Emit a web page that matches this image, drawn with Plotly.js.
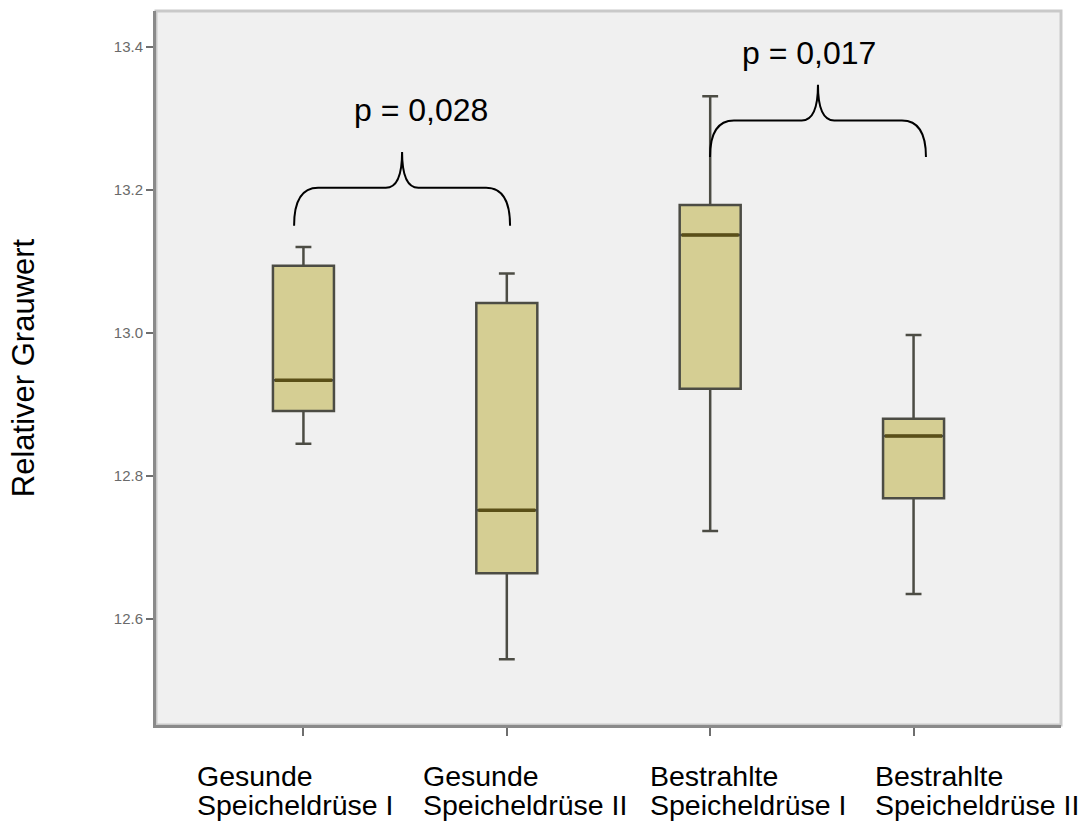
<!DOCTYPE html>
<html>
<head>
<meta charset="utf-8">
<script src="https://cdn.plot.ly/plotly-3.0.1.min.js"></script>
<style>html,body{margin:0;padding:0;background:#fff;}</style>
</head>
<body>
<div id="chart" style="width:1085px;height:822px;"></div>
<script>
// Data
const categories = ["Gesunde<br>Speicheldrüse I", "Gesunde<br>Speicheldrüse II", "Bestrahlte<br>Speicheldrüse I", "Bestrahlte<br>Speicheldrüse II"];
const lowerWhisker = [12.845, 12.544, 12.723, 12.635];
const q1Values     = [12.891, 12.664, 12.922, 12.769];
const medianValues = [12.934, 12.752, 13.137, 12.856];
const q3Values     = [13.094, 13.042, 13.179, 12.880];
const upperWhisker = [13.120, 13.083, 13.331, 12.997];
const yTicks = [12.6, 12.8, 13.0, 13.2, 13.4];
const yTickText = ["12.6", "12.8", "13.0", "13.2", "13.4"];
const pLabels = ["p = 0,028", "p = 0,017"];
const comparisons = [[0, 1], [2, 3]];

const idx = categories.map((_, i) => i);
const boxWidth = 0.3;
const FONT = 'Liberation Sans, Arial, sans-serif';

const boxTrace = {
  type: 'box',
  x: idx,
  q1: q1Values,
  median: medianValues,
  q3: q3Values,
  lowerfence: lowerWhisker,
  upperfence: upperWhisker,
  width: boxWidth,
  whiskerwidth: 0.26,
  boxpoints: false,
  fillcolor: '#d5ce93',
  line: {color: '#4c4c44', width: 2.5},
  hoverinfo: 'skip',
  showlegend: false
};

const mx = [], my = [];
idx.forEach(i => {
  mx.push(i - boxWidth / 2 + 0.01, i + boxWidth / 2 - 0.01, null);
  my.push(medianValues[i], medianValues[i], null);
});
const medianTrace = {
  type: 'scatter', mode: 'lines', x: mx, y: my,
  line: {color: '#5a4f17', width: 3.5},
  hoverinfo: 'skip', showlegend: false
};

// Curly braces between compared groups (layout geometry)
function bracePath(x0, x1, yb, yh, yt) {
  const xm = (x0 + x1) / 2, dx = 0.118, dx2 = 0.08;
  return `M ${x0},${yb} Q ${x0},${yh} ${x0 + dx},${yh} L ${xm - dx2},${yh} Q ${xm},${yh} ${xm},${yt} ` +
         `Q ${xm},${yh} ${xm + dx2},${yh} L ${x1 - dx},${yh} Q ${x1},${yh} ${x1},${yb}`;
}
const braceOffsets = [[-0.046, 0.016], [-0.001, 0.061]];
const braceLevels = [[13.150, 13.203, 13.253], [13.246, 13.297, 13.347]];
const pLabelPos = [[0.578, 13.312], [2.486, 13.391]];
const shapes = [{
  type: 'rect', xref: 'paper', yref: 'paper', x0: 0, x1: 1, y0: 0, y1: 1,
  line: {color: '#c9c9c9', width: 3}, layer: 'below'
}];
const annotations = [];
comparisons.forEach((c, k) => {
  const x0 = c[0] + braceOffsets[k][0], x1 = c[1] + braceOffsets[k][1];
  const [yb, yh, yt] = braceLevels[k];
  shapes.push({type: 'path', xref: 'x', yref: 'y', path: bracePath(x0, x1, yb, yh, yt),
               line: {color: '#000', width: 2}});
  annotations.push({xref: 'x', yref: 'y', x: pLabelPos[k][0], y: pLabelPos[k][1],
    text: pLabels[k], showarrow: false, xanchor: 'center', yanchor: 'middle',
    font: {family: FONT, size: 32, color: '#000'}});
});
const labelX = [0.043, 0.293, 0.5436, 0.792];
const lineY = [-0.0714, -0.1115];
categories.forEach((c, i) => {
  c.split('<br>').forEach((line, j) => {
    annotations.push({xref: 'paper', yref: 'paper', x: labelX[i], y: lineY[j],
      xanchor: 'left', yanchor: 'middle', align: 'left', text: line, showarrow: false,
      font: {family: FONT, size: 28.5, color: '#000'}});
  });
});

const layout = {
  width: 1085, height: 822,
  margin: {l: 156, r: 24, t: 11, b: 97},
  paper_bgcolor: '#ffffff',
  plot_bgcolor: '#f0f0f0',
  font: {family: FONT, color: '#000'},
  xaxis: {
    range: [-0.725, 3.725], tickvals: idx, ticktext: idx.map(() => ''),
    ticks: 'outside', ticklen: 8, tickwidth: 2, tickcolor: '#6e6e6e',
    showline: true, linecolor: '#8a8a8a', linewidth: 3,
    showgrid: false, zeroline: false, fixedrange: true
  },
  yaxis: {
    range: [12.452, 13.450], tickvals: yTicks, ticktext: yTickText,
    ticks: 'outside', ticklen: 7, tickwidth: 2, tickcolor: '#6e6e6e',
    tickfont: {size: 15, color: '#6a6a6a'},
    showline: true, linecolor: '#8a8a8a', linewidth: 3,
    showgrid: false, zeroline: false, fixedrange: true,
    title: {text: 'Relativer Grauwert', standoff: 70, font: {size: 31, color: '#000'}}
  },
  shapes: shapes,
  annotations: annotations,
  showlegend: false
};

Plotly.newPlot('chart', [boxTrace, medianTrace], layout, {displayModeBar: false, staticPlot: true});
</script>
</body>
</html>
